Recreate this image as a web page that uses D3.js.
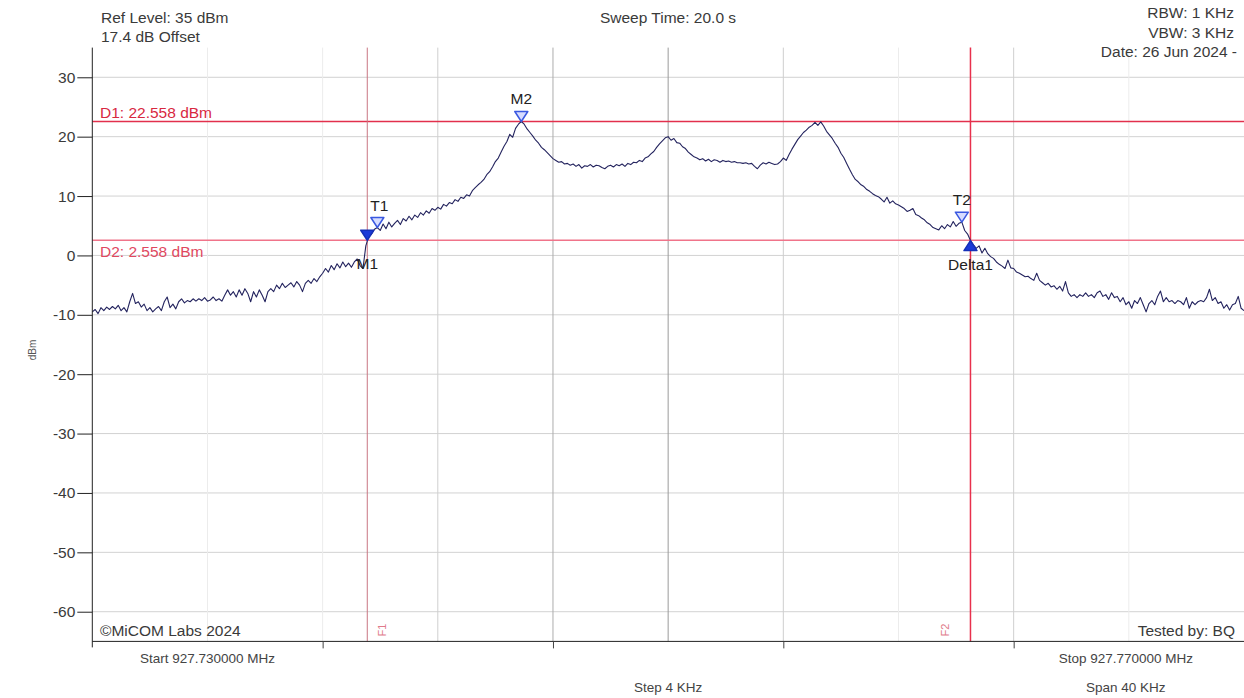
<!DOCTYPE html>
<html>
<head>
<meta charset="utf-8">
<script src="https://cdn.jsdelivr.net/npm/d3@7"></script>
<style>
  body { margin: 0; background: #fff; }
  svg { display: block; }
  text { font-family: "Liberation Sans", Arial, sans-serif; }
</style>
</head>
<body>
<svg id="chart" width="1244" height="698"></svg>
<script>
// Spectrum sweep: 927.730000 – 927.770000 MHz, offsets in kHz from start
const spanKHz = [0, 40];
const levelRange = [-65, 35];
const startKHz = 0;
const stepKHz = 0.1;

// Trace level (dBm), one reading per 0.1 kHz
const traceDbm = [
  -9.5,-9.1,-9.8,-8.8,-9.3,-8.7,-9.1,-8.6,-9.0,-8.4,-9.3,-8.8,-9.5,-7.8,-6.4,-8.1,-7.8,-8.7,-8.2,-9.3,
  -8.8,-9.5,-9.0,-8.6,-9.3,-7.8,-7.0,-8.8,-8.2,-9.0,-7.8,-7.3,-8.0,-7.6,-7.8,-7.3,-7.7,-7.3,-7.6,-7.1,
  -7.7,-7.5,-7.0,-7.6,-7.3,-7.7,-6.7,-5.8,-6.7,-6.1,-7.0,-5.8,-6.7,-5.6,-6.4,-7.8,-6.1,-7.0,-5.8,-6.7,
  -7.8,-6.1,-5.6,-6.1,-5.0,-5.6,-4.7,-5.4,-5.0,-4.6,-5.3,-4.4,-5.0,-6.1,-4.7,-4.2,-4.7,-3.9,-4.4,-3.6,
  -3.0,-2.2,-2.8,-1.7,-2.4,-1.4,-2.1,-1.1,-1.9,-1.3,-2.0,-1.1,-0.6,-1.7,-2.2,1.6,3.2,3.6,4.4,4.7,
  4.2,5.3,4.5,5.6,4.8,5.4,5.9,5.2,6.2,5.8,6.6,6.0,6.8,6.4,7.2,6.8,7.5,7.1,7.9,7.6,
  8.1,7.8,8.6,8.3,8.9,8.7,9.4,9.1,9.8,9.6,10.2,10.0,10.9,11.4,11.9,12.3,12.8,13.6,14.1,14.9,
  15.8,16.4,17.4,18.4,19.2,20.4,19.9,21.4,22.1,22.558,22.1,21.3,20.7,20.1,19.4,18.9,18.2,17.8,17.3,16.8,
  16.3,16.0,15.7,15.8,15.4,15.5,15.2,15.4,15.0,15.3,14.7,15.1,15.0,15.3,14.9,15.2,15.1,14.8,14.6,15.0,
  15.2,14.9,15.3,15.1,15.4,15.0,15.5,15.3,15.7,15.6,16.0,15.8,16.4,16.6,17.1,17.5,18.2,18.8,19.3,19.8,
  20.0,19.4,19.7,19.0,18.9,18.3,18.0,17.4,17.0,16.6,16.4,16.1,16.3,15.9,16.2,15.8,16.1,16.0,15.7,16.0,
  15.8,15.9,15.7,15.8,15.6,15.6,15.5,15.6,15.4,15.5,15.0,14.6,15.2,15.6,15.4,15.7,15.5,15.3,15.4,15.8,
  16.4,16.0,17.0,17.9,18.7,19.5,20.1,20.7,21.1,21.6,21.9,22.4,21.9,22.5,21.8,20.9,20.3,19.7,18.9,18.2,
  17.2,16.5,15.5,14.5,13.6,12.8,12.4,11.9,11.6,11.1,10.8,10.4,10.1,9.9,9.5,9.0,9.8,8.8,9.2,8.7,
  8.5,8.2,7.9,7.4,7.6,7.9,6.9,6.7,6.3,6.0,5.5,5.2,4.7,4.5,4.3,5.0,4.5,5.2,4.8,5.7,
  4.9,5.4,5.6,4.2,3.6,2.5,1.8,1.2,1.6,0.4,1.2,0.3,-0.2,-0.5,-1.1,-1.5,-1.8,-2.2,-0.8,-2.1,
  -2.2,-2.8,-3.0,-3.3,-3.6,-3.5,-3.9,-4.2,-3.0,-4.2,-4.6,-5.0,-4.7,-5.3,-5.1,-5.7,-5.2,-6.0,-4.4,-6.3,
  -6.9,-6.6,-7.1,-6.6,-6.9,-6.3,-6.9,-6.6,-7.1,-6.3,-6.0,-6.9,-6.6,-7.4,-6.3,-7.1,-6.9,-7.8,-7.1,-8.3,
  -7.8,-8.9,-7.6,-8.1,-7.1,-8.3,-9.5,-8.1,-7.6,-8.3,-6.9,-6.0,-7.8,-7.1,-7.8,-7.6,-8.1,-7.6,-7.8,-8.3,
  -7.1,-8.9,-7.8,-8.3,-7.8,-7.6,-7.8,-7.1,-5.7,-7.6,-7.1,-8.1,-7.8,-8.9,-8.3,-9.2,-8.3,-8.1,-6.9,-8.9,
  -9.3
];

const levelTicks = [30, 20, 10, 0, -10, -20, -30, -40, -50, -60];
const freqGridKHz = [4, 8, 12, 16, 20, 24, 28, 32, 36];
const freqTickKHz = [8, 16, 24, 32];

// Display lines
const dLineNames = ["D1: 22.558 dBm", "D2: 2.558 dBm"];
const dLineDbm = [22.558, 2.558];
const fLineNames = ["F1", "F2"];
const fLineKHz = [9.55, 30.5];

// Markers
const markerNames = ["M1", "T1", "M2", "T2", "Delta1"];
const markerKHz = [9.55, 9.9, 14.9, 30.2, 30.5];
const markerDbm = [2.558, 4.7, 22.558, 5.6, 2.5];

const headerLeft = ["Ref Level: 35 dBm", "17.4 dB Offset"];
const headerCenter = "Sweep Time: 20.0 s";
const headerRight = ["RBW: 1 KHz", "VBW: 3 KHz", "Date: 26 Jun 2024 -"];
const footerLeft = "\u00A9MiCOM Labs 2024";
const footerRight = "Tested by: BQ";
const startLabel = "Start 927.730000 MHz";
const stopLabel = "Stop 927.770000 MHz";
const stepLabel = "Step 4 KHz";
const spanLabel = "Span 40 KHz";
const yTitle = "dBm";

const svg = d3.select("#chart");
const plotLeft = 92.3, plotRight = 1244, plotTop = 47.6, plotBottom = 641.4;
const textColor = "#3a3a3a";

const x = d3.scaleLinear().domain(spanKHz).range([plotLeft, plotRight]);
const y = d3.scaleLinear().domain(levelRange).range([plotBottom, plotTop]);

// Horizontal grid
svg.append("g").selectAll("line").data(levelTicks).join("line")
  .attr("x1", plotLeft).attr("x2", plotRight)
  .attr("y1", d => y(d)).attr("y2", d => y(d))
  .attr("stroke", "#d2d2d2").attr("stroke-width", 1);

// Vertical grid
const vStroke = k => k === 20 ? "#9a9a9a" : k === 16 ? "#acacac" : (k === 12 || k === 24 || k === 32) ? "#cfcfcf" : "#ececec";
svg.append("g").selectAll("line").data(freqGridKHz).join("line")
  .attr("x1", d => x(d)).attr("x2", d => x(d))
  .attr("y1", plotTop).attr("y2", plotBottom)
  .attr("stroke", d => vStroke(d)).attr("stroke-width", 1);

// Display lines D1 / D2
const dColors = ["#e2304c", "#f0748a"];
svg.append("g").selectAll("line").data(dLineDbm).join("line")
  .attr("x1", plotLeft).attr("x2", plotRight)
  .attr("y1", d => y(d)).attr("y2", d => y(d))
  .attr("stroke", (d, i) => dColors[i]).attr("stroke-width", 1.5);
svg.append("g").selectAll("text").data(dLineNames).join("text")
  .attr("x", 100)
  .attr("y", (d, i) => i === 0 ? y(dLineDbm[i]) - 3 : y(dLineDbm[i]) + 17)
  .attr("font-size", 15.5).attr("fill", (d, i) => i === 0 ? "#d8283f" : "#e0485f")
  .text(d => d);

// Frequency lines F1 / F2
const fColors = ["#c97682", "#e8304c"];
svg.append("g").selectAll("line").data(fLineKHz).join("line")
  .attr("x1", d => x(d)).attr("x2", d => x(d))
  .attr("y1", plotTop).attr("y2", plotBottom)
  .attr("stroke", (d, i) => fColors[i]).attr("stroke-width", (d, i) => i === 0 ? 1 : 1.5);
svg.append("g").selectAll("text").data(fLineNames).join("text")
  .attr("transform", (d, i) => `translate(${x(fLineKHz[i]) + (i === 0 ? 19 : -21)},${plotBottom - 5}) rotate(-90)`)
  .attr("font-size", 11).attr("fill", "#e07a8a")
  .text(d => d);

// Trace
const line = d3.line()
  .x((d, i) => x(startKHz + i * stepKHz))
  .y(d => y(d));
svg.append("path").datum(traceDbm)
  .attr("d", line)
  .attr("fill", "none")
  .attr("stroke", "#23235e")
  .attr("stroke-width", 1.1)
  .attr("stroke-linejoin", "round");

// Markers
const mg = svg.append("g");
markerNames.forEach((name, i) => {
  const px = x(markerKHz[i]), py = y(markerDbm[i]);
  const filled = name === "M1" || name === "Delta1";
  const up = name === "Delta1";
  const w = 6.5, h = 10;
  const pts = up
    ? [[px, py], [px - w, py + h], [px + w, py + h]]
    : [[px, py], [px - w, py - h], [px + w, py - h]];
  mg.append("polygon")
    .attr("points", pts.map(p => p.join(",")).join(" "))
    .attr("fill", filled ? "#1b3ad8" : "#d6dcff")
    .attr("stroke", filled ? "#1530b8" : "#3a58e0")
    .attr("stroke-width", 1.5)
    .attr("stroke-linejoin", "round");
  const below = name === "M1" || name === "Delta1";
  mg.append("text")
    .attr("x", px + (name === "T1" ? 2 : 0))
    .attr("y", below ? py + 29 : py - 17)
    .attr("text-anchor", "middle")
    .attr("font-size", 15.5)
    .attr("fill", "#222")
    .text(name);
});

// Axes
const yAxis = d3.axisLeft(y).tickValues(levelTicks).tickSize(15).tickPadding(2)
  .tickFormat(d => String(d));
const ga = svg.append("g").attr("transform", `translate(${plotLeft},0)`).call(yAxis);
ga.select(".domain").attr("d", `M0,${plotTop}V${plotBottom + 6}`).attr("stroke", "#222");
ga.selectAll(".tick line").attr("stroke", "#222");
ga.selectAll(".tick text").attr("font-size", 15.5).attr("fill", textColor)
  .attr("font-family", "\"Liberation Sans\", Arial, sans-serif");

const xAxis = d3.axisBottom(x).tickValues(freqTickKHz).tickSize(7).tickFormat("");
const gx = svg.append("g").attr("transform", `translate(0,${plotBottom})`).call(xAxis);
gx.select(".domain").attr("d", `M${plotLeft},0H${plotRight}`).attr("stroke", "#222");
gx.selectAll(".tick line").attr("stroke", "#444");

// Header text
svg.append("g").selectAll("text").data(headerLeft).join("text")
  .attr("x", 101).attr("y", (d, i) => 22.5 + i * 19.5)
  .attr("font-size", 15.5).attr("fill", textColor).text(d => d);
svg.append("text").attr("x", 668).attr("y", 22.5).attr("text-anchor", "middle")
  .attr("font-size", 15.5).attr("fill", textColor).text(headerCenter);
svg.append("g").selectAll("text").data(headerRight).join("text")
  .attr("x", (d, i) => i === 2 ? 1237 : 1234).attr("y", (d, i) => 18 + i * 19.5)
  .attr("text-anchor", "end")
  .attr("font-size", 15.5).attr("fill", textColor).text(d => d);

// Footer text
svg.append("text").attr("x", 100).attr("y", 636)
  .attr("font-size", 15.5).attr("fill", textColor).text(footerLeft);
svg.append("text").attr("x", 1235).attr("y", 636).attr("text-anchor", "end")
  .attr("font-size", 15.5).attr("fill", textColor).text(footerRight);
svg.append("text").attr("x", x(4)).attr("y", 663).attr("text-anchor", "middle")
  .attr("font-size", 13.5).attr("fill", "#444").text(startLabel);
svg.append("text").attr("x", x(36) - 3).attr("y", 663).attr("text-anchor", "middle")
  .attr("font-size", 13.5).attr("fill", "#444").text(stopLabel);
svg.append("text").attr("x", x(20)).attr("y", 692).attr("text-anchor", "middle")
  .attr("font-size", 13.5).attr("fill", "#444").text(stepLabel);
svg.append("text").attr("x", x(36) - 3).attr("y", 692).attr("text-anchor", "middle")
  .attr("font-size", 13.5).attr("fill", "#444").text(spanLabel);

// Level axis title
svg.append("text").attr("transform", "translate(36,350) rotate(-90)")
  .attr("text-anchor", "middle").attr("font-size", 10).attr("fill", "#555")
  .text(yTitle);
</script>
</body>
</html>
